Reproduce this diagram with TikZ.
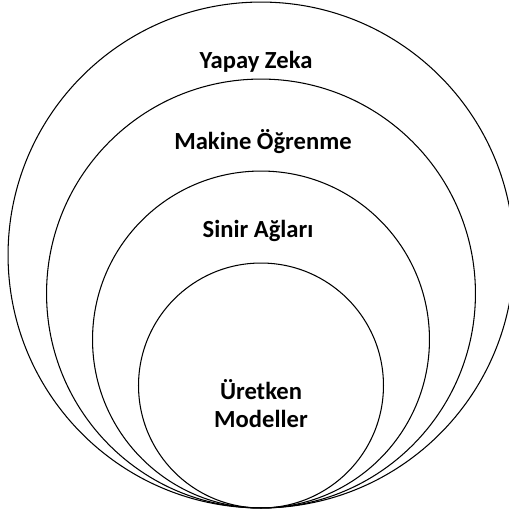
\documentclass[tikz,border=0pt]{standalone}
\usepackage{fontspec}
\setmainfont{Carlito}
\usepackage{tikz}
\usetikzlibrary{shapes}

\begin{document}
\begin{tikzpicture}[x=0.02cm,y=-0.02cm]
\useasboundingbox (0,0) rectangle (509,512);
\node[shape=circle,draw=black,inner sep=0pt,minimum size=10.12cm,line width=0.6pt] (ai) at (261,255) {};
\node[shape=circle,draw=black,inner sep=0pt,minimum size=8.58cm,line width=0.6pt] (ml) at (261,293.5) {};
\node[shape=circle,draw=black,inner sep=0pt,minimum size=6.74cm,line width=0.6pt] (nn) at (261,339.5) {};
\node[shape=circle,draw=black,inner sep=0pt,minimum size=4.9cm,line width=0.6pt] (gm) at (261,385.5) {};

\node[font=\fontsize{14pt}{16pt}\selectfont\bfseries,align=center] (ailabel) at (256,62) {Yapay Zeka};
\node[font=\fontsize{14pt}{16pt}\selectfont\bfseries,align=center] (mllabel) at (263,142) {Makine Öğrenme};
\node[font=\fontsize{14pt}{16pt}\selectfont\bfseries,align=center] (nnlabel) at (258,231) {Sinir Ağları};
\node[font=\fontsize{14pt}{16pt}\selectfont\bfseries,align=center] (gmlabel) at (261,404) {Üretken\\Modeller};
\end{tikzpicture}
\end{document}
